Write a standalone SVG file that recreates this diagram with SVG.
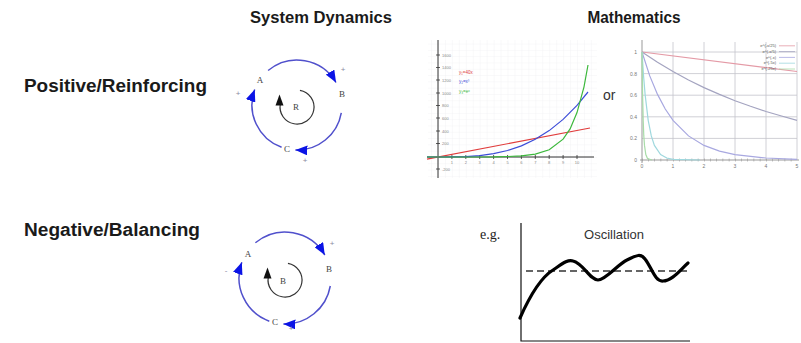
<svg xmlns="http://www.w3.org/2000/svg" width="801" height="343" viewBox="0 0 801 343">
<defs>
<style>
.title{font-family:"Liberation Sans",Arial,sans-serif;font-weight:bold;fill:#1a1a1a}
.var{font-family:"Liberation Serif",serif;font-size:9px;fill:#444;text-anchor:middle}
.pol{font-family:"Liberation Sans",sans-serif;font-size:8px;fill:#8a8aa0;text-anchor:middle}
.link{fill:none;stroke:#5050cc;stroke-width:1.5}
.inner{fill:none;stroke:#333;stroke-width:1.2}
.tick{font-family:"Liberation Sans",sans-serif;font-size:4px;fill:#888}
.tickr{font-family:"Liberation Sans",sans-serif;font-size:5px;fill:#777}
.grid1{fill:none;stroke:#ececf0;stroke-width:0.6}
.grid2{fill:none;stroke:#c4c4cc;stroke-width:0.8}
.curve{fill:none;stroke-width:1.2}
</style>
<marker id="blueHead" markerUnits="userSpaceOnUse" markerWidth="13" markerHeight="10" refX="12" refY="5" orient="auto"><path d="M0,0 L12,5 L0,10 z" fill="#0b14e6"/></marker>
<path id="blackHead" d="M0,-5.5 L-4,5.5 L4,5.5 z" fill="#111"/>
<pattern id="gridPat" patternUnits="userSpaceOnUse" x="438" y="157" width="6.95" height="6.3"><path d="M0,0 V6.3 M0,0 H6.95" class="grid1"/></pattern>
</defs>
<rect width="801" height="343" fill="#fff"/>

<!-- headers -->
<g id="header-system-dynamics"><text class="title" x="321" y="23" font-size="16" text-anchor="middle" textLength="142" lengthAdjust="spacingAndGlyphs">System Dynamics</text></g>
<g id="header-mathematics"><text class="title" x="634" y="23" font-size="16" text-anchor="middle" textLength="93" lengthAdjust="spacingAndGlyphs">Mathematics</text></g>
<g id="row-positive"><text class="title" x="24" y="92" font-size="18" textLength="183" lengthAdjust="spacingAndGlyphs">Positive/Reinforcing</text></g>
<g id="row-negative"><text class="title" x="24" y="236" font-size="18" textLength="176" lengthAdjust="spacingAndGlyphs">Negative/Balancing</text></g>

<!-- reinforcing loop -->
<g id="loop-R">
  <g id="connectors-R">
    <path class="link" d="M268.1,70.5 A45,45 0 0 1 336,82.5" marker-end="url(#blueHead)"/>
    <path class="link" d="M341.3,112.8 A45,45 0 0 1 295.4,150" marker-end="url(#blueHead)"/>
    <path class="link" d="M281.6,147.3 A45,45 0 0 1 254.7,89.6" marker-end="url(#blueHead)"/>
    <path class="inner" d="M299.95,90.3 A17,17 0 1 1 280.3,104"/>
    <use href="#blackHead" x="279.5" y="100"/>
  </g>
  <g id="R-node-A"><text class="var" x="260" y="83">A</text></g>
  <g id="R-node-B"><text class="var" x="342" y="97">B</text></g>
  <g id="R-node-C"><text class="var" x="287" y="152">C</text></g>
  <g id="R-label"><text class="var" x="296" y="110">R</text></g>
  <g id="R-polarities">
    <text class="pol" x="343" y="72">+</text>
    <text class="pol" x="238" y="96">+</text>
    <text class="pol" x="305" y="163">+</text>
  </g>
</g>

<!-- balancing loop -->
<g id="loop-B">
  <g id="connectors-B">
    <path class="link" d="M255.4,242.8 A46,46 0 0 1 324.8,255" marker-end="url(#blueHead)"/>
    <path class="link" d="M330.3,286 A46,46 0 0 1 283.4,324" marker-end="url(#blueHead)"/>
    <path class="link" d="M269.3,321.2 A46,46 0 0 1 241.8,262.3" marker-end="url(#blueHead)"/>
    <path class="inner" d="M287.95,263.3 A17,17 0 1 1 268.3,277"/>
    <use href="#blackHead" x="267.5" y="273"/>
  </g>
  <g id="B-node-A"><text class="var" x="248" y="257">A</text></g>
  <g id="B-node-B"><text class="var" x="329" y="272">B</text></g>
  <g id="B-node-C"><text class="var" x="275" y="325">C</text></g>
  <g id="B-label"><text class="var" x="283" y="284">B</text></g>
  <g id="B-polarities">
    <text class="pol" x="332" y="246">+</text>
    <text class="pol" x="226" y="273">-</text>
    <text class="pol" x="291" y="331">+</text>
  </g>
</g>

<!-- growth graph -->
<g id="graph-growth">
  <rect x="428" y="40" width="169" height="138" fill="url(#gridPat)"/>
  <path d="M438,40 V178 M427,157 H594" fill="none" stroke="#333" stroke-width="1"/>
  <path d="M436,55 H440 M436,67.5 H440 M436,80 H440 M436,93 H440 M436,105.5 H440 M436,118 H440 M436,131 H440 M436,143.5 H440 M436,169 H440 M451.9,155 V159 M465.8,155 V159 M479.7,155 V159 M493.6,155 V159 M507.5,155 V159 M521.4,155 V159 M535.3,155 V159 M549.2,155 V159 M563.1,155 V159 M577,155 V159" fill="none" stroke="#333" stroke-width="0.8"/>
  <g class="tick">
    <text x="442" y="56.5">1600</text><text x="442" y="69">1400</text><text x="442" y="81.5">1200</text><text x="442" y="94.5">1000</text><text x="442" y="107">800</text><text x="442" y="119.5">600</text><text x="442" y="132.5">400</text><text x="442" y="145">200</text><text x="442" y="170.5">-200</text>
  </g>
  <g class="tick" text-anchor="middle">
    <text x="451.9" y="163.5">1</text><text x="465.8" y="163.5">2</text><text x="479.7" y="163.5">3</text><text x="493.6" y="163.5">4</text><text x="507.5" y="163.5">5</text><text x="521.4" y="163.5">6</text><text x="535.3" y="163.5">7</text><text x="549.2" y="163.5">8</text><text x="563.1" y="163.5">9</text><text x="577" y="163.5">10</text>
  </g>
  <polyline class="curve" stroke="#e03c3c" points="427,159.1 590,128"/>
  <polyline class="curve" stroke="#3c4cd8" points="427,157 438,157 465.8,156.6 479.7,155.6 493.6,153.7 507.5,150.5 521.4,145.9 535.3,139.3 549.2,130.6 563.1,119.4 577,105.4 588,92"/>
  <polyline class="curve" stroke="#3cb83c" points="427,157 493.6,156.9 507.5,156.5 521.4,155.9 535.3,154.1 549.2,149.8 563.1,139.2 570.1,128.9 577,112.6 584,86.8 588,65"/>
  <text x="459" y="74" font-family="Liberation Sans,sans-serif" font-size="4.5" fill="#e03c3c">y₁=40x</text>
  <text x="459" y="83" font-family="Liberation Sans,sans-serif" font-size="4.5" fill="#3c4cd8">y₂=x³</text>
  <text x="459" y="93" font-family="Liberation Sans,sans-serif" font-size="4.5" fill="#3cb83c">y₃=eˣ</text>
</g>

<g id="or-label"><text x="603" y="100" font-family="Liberation Sans,sans-serif" font-size="14" fill="#333">or</text></g>

<!-- decay graph -->
<g id="graph-decay">
  <path class="grid2" d="M673,42 V160 M704,42 V160 M735,42 V160 M766,42 V160 M797,42 V160 M642,52 H797 M642,73.6 H797 M642,95.2 H797 M642,116.8 H797 M642,138.4 H797"/>
  <path d="M642,40 V163 M640,160 H799" fill="none" stroke="#999" stroke-width="1"/>
  <path d="M642,160 H797" fill="none" stroke="#999" stroke-width="3" stroke-dasharray="0.6,5.6"/>
  <g class="tickr" text-anchor="end">
    <text x="637" y="54">1</text><text x="637" y="75.5">0.8</text><text x="637" y="97">0.6</text><text x="637" y="118.5">0.4</text><text x="637" y="140">0.2</text><text x="637" y="161.5">0</text>
  </g>
  <g class="tickr" text-anchor="middle">
    <text x="642" y="168">0</text><text x="673" y="168">1</text><text x="704" y="168">2</text><text x="735" y="168">3</text><text x="766" y="168">4</text><text x="797" y="168">5</text>
  </g>
  <polyline class="curve" stroke="#e49aa6" points="642,52 797,71.5"/>
  <polyline class="curve" stroke="#a4a4c0" points="642,52 657.5,62.3 673,71.6 688.5,80 704,87.6 719.5,94.4 735,100.7 750.5,106.3 766,111.5 781.5,116 797,120.3"/>
  <polyline class="curve" stroke="#a8a8e0" points="642,52 649.75,75.9 657.5,94.4 665.25,109 673,120.3 688.5,135.9 704,145.4 719.5,151.1 735,154.6 766,158 797,159.3"/>
  <polyline class="curve" stroke="#9fd8de" points="642,52 643.55,75.9 645.1,94.4 648.2,120.3 651.3,135.9 654.4,145.4 660.6,154.6 666.8,158 673,159.3 700,160"/>
  <polyline class="curve" stroke="#a8dca8" points="642,52 642.3,75.9 642.6,94.4 643.2,120.3 643.8,135.9 644.5,145.4 645.8,154.6 647.5,158.5 652,160"/>
  <g font-family="Liberation Sans,sans-serif" font-size="4" fill="#555" text-anchor="end">
    <text x="776" y="47">e^(-x/25)</text><text x="776" y="52.8">e^(-x/5)</text><text x="776" y="58.6">e^(-x)</text><text x="776" y="64.4">e^(-5x)</text><text x="776" y="70.2">e^(-25x)</text>
  </g>
  <path d="M779,45.8 H795" stroke="#e49aa6" stroke-width="0.8"/>
  <path d="M779,51.6 H795" stroke="#a4a4c0" stroke-width="0.8"/>
  <path d="M779,57.4 H795" stroke="#a8a8e0" stroke-width="0.8"/>
  <path d="M779,63.2 H795" stroke="#9fd8de" stroke-width="0.8"/>
  <path d="M779,69 H795" stroke="#a8dca8" stroke-width="0.8"/>
</g>

<!-- oscillation graph -->
<g id="graph-oscillation">
  <text x="480" y="239" font-family="Liberation Serif,serif" font-size="14" fill="#222">e.g.</text>
  <text x="614" y="239" font-family="Liberation Sans,sans-serif" font-size="13" fill="#333" text-anchor="middle">Oscillation</text>
  <path d="M521,223 V341 H690" fill="none" stroke="#111" stroke-width="1.2"/>
  <path d="M526,271 H690" fill="none" stroke="#333" stroke-width="1.6" stroke-dasharray="7,4"/>
  <path d="M520,318 C528,300 540,278 553,270 C562,264 568,259 573,261 C583,263 590,280 598,280 C606,280 618,264 627,260 C634,257 640,252 645,259 C652,268 655,282 663,281 C672,281 680,270 688,263" fill="none" stroke="#000" stroke-width="3.2" stroke-linecap="round" stroke-linejoin="round"/>
</g>
</svg>
